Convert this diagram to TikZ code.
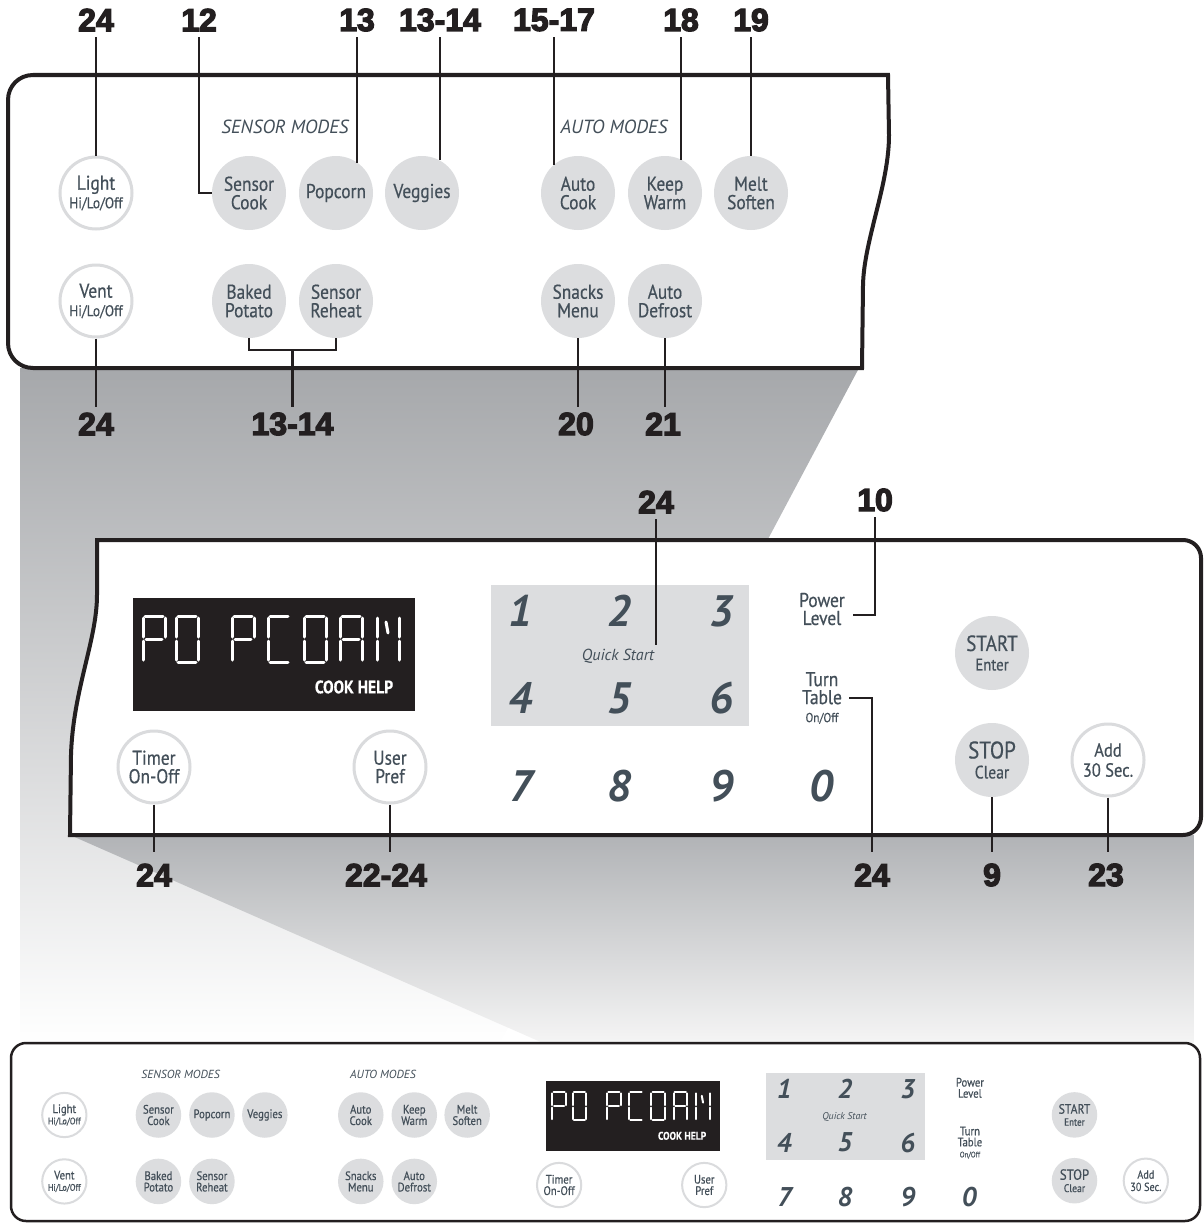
\documentclass[tikz,border=0pt]{standalone}
\usepackage{fontspec}
\usetikzlibrary{calc}
\newfontfamily\plainfont{PT Sans}
\newfontfamily\keyfont{PT Sans}[FakeStretch=0.87, FakeBold=0.5]
\newfontfamily\numfont{Liberation Sans}[BoldFeatures={FakeBold=4}]
\definecolor{keytext}{HTML}{434F59}
\definecolor{keyfill}{HTML}{DCDDDF}
\definecolor{keyring}{HTML}{DADBDD}
\definecolor{inkblack}{HTML}{231F20}
\definecolor{shadetop}{HTML}{A6A8AB}
\definecolor{shademid}{HTML}{B1B3B6}
\definecolor{lcdblack}{HTML}{231F20}
\newcommand\hlosize{\fontsize{15.5}{15}\selectfont}
% one segment character of the display, #1 = left edge, #2 = lit segments
\newcommand\lcdchar[2]{%
  \begin{scope}[shift={(#1,616)}]
    \foreach \s in {#2}{%
      \if a\s \draw[lcdseg] (2,0) -- (20,0);\fi
      \if b\s \draw[lcdseg] (22,2) -- (22,21);\fi
      \if c\s \draw[lcdseg] (22,25) -- (22,44);\fi
      \if d\s \draw[lcdseg] (2,46) -- (20,46);\fi
      \if e\s \draw[lcdseg] (0,25) -- (0,44);\fi
      \if f\s \draw[lcdseg] (0,2) -- (0,21);\fi
      \if g\s \draw[lcdseg] (3,23) -- (19,23);\fi
      \if n\s \draw[lcdseg] (9,6) -- (11,17);\fi
    }
  \end{scope}}
% keys of the upper (mode) panel
\newcommand\upperkeys{%
  \node[modelbl] (sensmodes) at (285,127) {SENSOR MODES};
  \node[modelbl] (automodes) at (614,127) {AUTO MODES};
  \node[ringkey] (light) at (96,193) {Light\\{\hlosize Hi/Lo/Off}};
  \node[ringkey] (vent) at (96,301) {Vent\\{\hlosize Hi/Lo/Off}};
  \node[graykey] (scook) at (249,193) {Sensor\\Cook};
  \node[graykey] (popcorn) at (336,193) {Popcorn};
  \node[graykey] (veggies) at (422,193) {Veggies};
  \node[graykey] (bpotato) at (249,301) {Baked\\Potato};
  \node[graykey] (sreheat) at (336,301) {Sensor\\Reheat};
  \node[graykey] (autocook) at (578,193) {Auto\\Cook};
  \node[graykey] (keepwarm) at (665,193) {Keep\\Warm};
  \node[graykey] (melt) at (751,193) {Melt\\Soften};
  \node[graykey] (snacks) at (578,301) {Snacks\\Menu};
  \node[graykey] (adefrost) at (665,301) {Auto\\Defrost};
}
% display, keypad and keys of the lower panel
\newcommand\lowerkeys{%
  \node[fill=lcdblack, minimum width=282pt, minimum height=113pt, inner sep=0pt] (lcd) at (274,654.5) {};
  \lcdchar{143}{a,f,b,g,e}
  \lcdchar{176}{a,b,c,d,e,f}
  \lcdchar{232}{a,f,b,g,e}
  \lcdchar{268}{a,f,e,d}
  \lcdchar{304}{a,b,c,d,e,f}
  \lcdchar{340}{a,f,b,g,e,c}
  \lcdchar{377}{f,e,b,c,n}
  \node[font=\keyfont\bfseries\fontsize{18}{18}\selectfont, text=white] (cookhelp) at (354,687) {COOK HELP};
  \node[fill=keyfill, minimum width=258pt, minimum height=141pt, inner sep=0pt] (pad) at (620,655.5) {};
  \foreach \d/\x/\y in {1/520/611,2/619/611,3/721/611,4/520/698,5/619/698,6/721/698,7/521/786,8/619/786,9/721/786,0/821/786}
    \node[padnum] (key\d) at (\x,\y) {\d};
  \node[font=\plainfont\itshape\fontsize{16}{16}\selectfont, text=keytext] (qstart) at (618,656) {Quick Start};
  \node[plaintxt] (power) at (822,609) {Power\\Level};
  \node[plaintxt] (turntbl) at (822,698) {Turn\\Table\\{\fontsize{13}{13}\selectfont On/Off}};
  \node[graykey, font=\keyfont\fontsize{17}{19.5}\selectfont] (start) at (992,653) {{\fontsize{22}{22}\selectfont START}\\Enter};
  \node[graykey, font=\keyfont\fontsize{18}{20}\selectfont] (stop) at (992,760) {{\fontsize{24}{24}\selectfont STOP}\\Clear};
  \node[ringkey, font=\keyfont\fontsize{19}{20}\selectfont] (add) at (1108,760) {Add\\30 Sec.};
  \node[ringkey] (timer) at (154,767) {Timer\\On-Off};
  \node[ringkey] (upref) at (390,767) {User\\Pref};
}

\begin{document}
\begin{tikzpicture}[x=1pt, y=-1pt,
    lead/.style={draw=inkblack, line width=2.5pt},
    panelline/.style={draw=inkblack, line width=4pt, fill=white},
    numlbl/.style={font=\numfont\bfseries\fontsize{32}{32}\selectfont, text=inkblack, inner sep=0pt, outer sep=6pt},
    keytxt/.style={font=\keyfont\fontsize{20}{18.5}\selectfont, text=keytext, align=center},
    graykey/.style={keytxt, circle, fill=keyfill, minimum size=74pt, inner sep=0pt},
    ringkey/.style={keytxt, circle, fill=white, draw=keyring, line width=3pt, minimum size=72pt, inner sep=0pt},
    modelbl/.style={font=\plainfont\itshape\fontsize{19}{19}\selectfont, text=keytext},
    plaintxt/.style={keytxt, font=\keyfont\fontsize{20}{18}\selectfont},
    padnum/.style={font=\plainfont\bfseries\itshape\fontsize{44}{44}\selectfont, text=keytext, inner sep=0pt},
    lcdseg/.style={white, line width=3pt, line cap=round}
]
\useasboundingbox (0,0) rectangle (1203,1223);

% grey projections
\shade[top color=shadetop, bottom color=white] (20,368) -- (859,368) -- (500,1043) -- (20,1043) -- cycle;
\shade[top color=shademid, bottom color=white!96!black] (70,835) -- (1194,835) -- (1194,1043) -- (543,1043) -- cycle;

% enlarged panels
\draw[panelline] (888,75) -- (889,135) .. controls (889,185) and (864,240) .. (863,285) -- (862,368)
  -- (33,368) .. controls (19,368) and (8,357) .. (8,343) -- (8,100) .. controls (8,86) and (19,75) .. (33,75) -- cycle;
\draw[panelline] (97,540) -- (1183,540) .. controls (1193,540) and (1201,548) .. (1201,558) -- (1201,817)
  .. controls (1201,827) and (1193,835) .. (1183,835) -- (70,835) -- (71,755) .. controls (73,690) and (97,640) .. (97,595) -- cycle;

% whole panel
\draw[draw=inkblack, line width=2.5pt, fill=white, rounded corners=15pt] (11,1043) rectangle (1200,1221);

\upperkeys
\lowerkeys

\begin{scope}[name prefix=s-, shift={(5.3,996.3)}, scale=0.615, transform shape, ringkey/.append style={line width=2pt}]
  \upperkeys
\end{scope}
\begin{scope}[name prefix=s-, shift={(464.4,713.3)}, scale=0.615, transform shape,
    ringkey/.append style={line width=2pt}, lcdseg/.append style={line width=2pt}]
  \lowerkeys
\end{scope}

% callout numbers
\node[numlbl] (n24a) at (96,20) {24};
\node[numlbl] (n12) at (199,20) {12};
\node[numlbl] (n13) at (357,20) {13};
\node[numlbl] (n1314a) at (440,20) {13-14};
\node[numlbl] (n1517) at (554,20) {15-17};
\node[numlbl] (n18) at (681,20) {18};
\node[numlbl] (n19) at (751,20) {19};
\node[numlbl] (n24b) at (96,424) {24};
\node[numlbl] (n1314b) at (292.5,424) {13-14};
\node[numlbl] (n20) at (576,424) {20};
\node[numlbl] (n21) at (663,424) {21};
\node[numlbl] (n24k) at (656,502) {24};
\node[numlbl] (n10) at (875,500) {10};
\node[numlbl] (n24t) at (154,875) {24};
\node[numlbl] (n2224) at (386,875) {22-24};
\node[numlbl] (n24tt) at (872,875) {24};
\node[numlbl] (n9) at (992,875) {9};
\node[numlbl] (n23) at (1106,875) {23};

% leads
\draw[lead] (n24a) -- (light);
\draw[lead] (n12) |- (scook);
\draw[lead] (n13.south) -- (n13.south |- popcorn.55);
\draw[lead] (n1314a.south) -- (n1314a.south |- veggies.61);
\draw[lead] (n1517.south) -- (n1517.south |- autocook.130);
\draw[lead] (n18.south) -- (n18.south |- keepwarm.64);
\draw[lead] (n19) -- (melt);
\draw[lead] (vent) -- (n24b);
\draw[lead] (bpotato.south) -- ++(0,12) -| (sreheat.south);
\coordinate (brk) at ($(bpotato.south)!.5!(sreheat.south)+(0,12)$);
\draw[lead] (brk) -- (n1314b);
\draw[lead] (snacks.south) -- (snacks.south |- n20.north);
\draw[lead] (adefrost.south) -- (adefrost.south |- n21.north);
\draw[lead] (n24k.south) -- (n24k.south |- qstart.north);
\draw[lead] (n10.south) |- ([xshift=5pt,yshift=-6pt]power.east);
\draw[lead, shorten >=6pt] ([xshift=4pt]turntbl.east) -| (n24tt.north);
\draw[lead, shorten >=6pt] (timer) -- (n24t);
\draw[lead, shorten >=6pt] (upref.south) -- (upref.south |- n2224.north);
\draw[lead, shorten >=6pt] (stop) -- (n9);
\draw[lead, shorten >=6pt] (add.south) -- (add.south |- n23.north);
\end{tikzpicture}
\end{document}
